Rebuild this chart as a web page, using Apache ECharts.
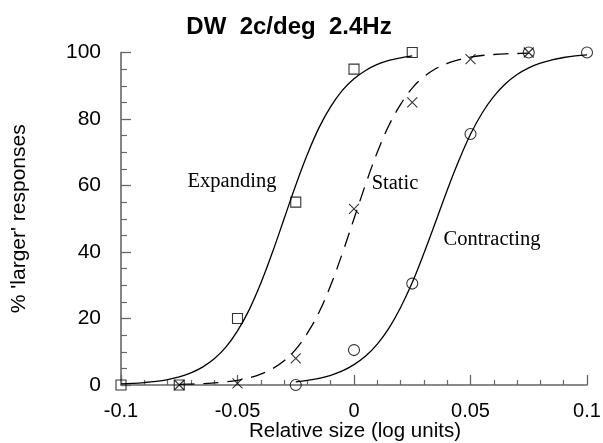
<!DOCTYPE html>
<html>
<head>
<meta charset="utf-8">
<script src="https://cdn.jsdelivr.net/npm/echarts@6/dist/echarts.min.js"></script>
<style>html,body{margin:0;padding:0;background:#fff}#c{width:603px;height:443px}</style>
</head>
<body>
<div id="c"></div>
<script>
const curveX = [-0.1,-0.095,-0.09,-0.085,-0.08,-0.075,-0.07,-0.065,-0.06,-0.055,-0.05,-0.045,-0.04,-0.035,-0.03,-0.025,-0.02,-0.015,-0.01,-0.005,0,0.005,0.01,0.015,0.02,0.025,0.03,0.035,0.04,0.045,0.05,0.055,0.06,0.065,0.07,0.075,0.08,0.085,0.09,0.095,0.1];
// curve values (null = not drawn)
const expandingCurve = [0.32,0.48,0.73,1.09,1.63,2.44,3.63,5.37,7.87,11.4,16.3,22.6,30.6,39.9,50,60.1,69.4,77.4,83.7,88.6,92.1,94.6,96.4,97.6,98.4,99.0,null,null,null,null,null,null,null,null,null,null,null,null,null,null,null];
const staticCurve = [null,null,null,null,null,0.17,0.27,0.40,0.62,0.94,1.42,2.17,3.26,4.88,7.3,10.7,15.6,21.9,30.0,39.6,50,60.4,70.0,78.1,84.4,89.3,92.7,95.1,96.7,97.8,98.6,99.1,99.4,99.6,99.7,99.8,null,null,null,null,null];
const contractingCurve = [null,null,null,null,null,null,null,null,null,null,null,null,null,null,null,0.95,1.38,2.02,2.93,4.23,6.12,8.7,12.3,17.1,23.3,30.8,39.6,49.0,58.6,67.5,75.4,81.8,86.8,90.6,93.4,95.4,96.8,97.8,98.5,99.0,99.3];
// measured points
const expandingX = [-0.1,-0.075,-0.05,-0.025,0,0.025];
const expandingY = [0,0,20,55,95,100];
const staticX = [-0.075,-0.05,-0.025,0,0.025,0.05,0.075];
const staticY = [0,0.5,8,53,85,98,100];
const contractingX = [-0.025,0,0.025,0.05,0.075,0.1];
const contractingY = [0,10.5,30.5,75.5,100,100];
// axis ticks
const xTicks = [-0.1,-0.05,0,0.05,0.1];
const yTicks = [0,20,40,60,80,100];
const labels = {title:'DW  2c/deg  2.4Hz', xName:'Relative size (log units)', yName:"% 'larger' responses", expanding:'Expanding', static:'Static', contracting:'Contracting'};

const chart = echarts.init(document.getElementById('c'), null, {renderer:'canvas'});
const pairs = (xs, ys) => xs.map((x,i)=>[x, ys[i]]).filter(p=>p[1]!==null);
const axisColor = '#666';
const sans = 'Liberation Sans';
const hollow = {color:'rgba(0,0,0,0)', borderColor:'#000', borderWidth:1.1};
const crossPath = 'path://M0,0L10,10M0,10L10,0';

chart.setOption({
  animation:false,
  backgroundColor:'#fff',
  grid:{left:121, right:16, top:52.5, bottom:58, containLabel:false, outerBoundsMode:'none'},
  xAxis:{
    type:'value', min:-0.1, max:0.1, interval:0.05,
    axisLine:{show:true, onZero:false, lineStyle:{color:axisColor, width:1.6}},
    axisTick:{show:true, inside:true, length:10, lineStyle:{color:axisColor, width:1.3}},
    minorTick:{show:true, splitNumber:5, length:5, lineStyle:{color:axisColor, width:1.2}},
    splitLine:{show:false},
    axisLabel:{fontFamily:sans, fontSize:20, color:'#000', margin:16,
      formatter:v=>{ const r=Math.round(v*1000)/1000; return xTicks.includes(r)?String(r):''; }}
  },
  yAxis:{
    type:'value', min:0, max:100, interval:20,
    name:labels.yName, nameLocation:'middle', nameGap:91,
    nameTextStyle:{fontFamily:sans, fontSize:21, color:'#000'},
    axisLine:{show:true, onZero:false, lineStyle:{color:axisColor, width:1.6}},
    axisTick:{show:true, inside:true, length:10, lineStyle:{color:axisColor, width:1.3}},
    minorTick:{show:true, splitNumber:4, length:6, lineStyle:{color:axisColor, width:1.2}},
    splitLine:{show:false},
    axisLabel:{fontFamily:sans, fontSize:21, color:'#000', margin:20,
      formatter:v=> yTicks.includes(v)?String(v):''}
  },
  graphic:[
    {type:'text', x:289, y:27, style:{text:labels.title, font:'bold 24px "Liberation Sans"', fill:'#000', textAlign:'center', textVerticalAlign:'middle'}},
    {type:'text', x:355, y:431, style:{text:labels.xName, font:'20.5px "Liberation Sans"', fill:'#000', textAlign:'center', textVerticalAlign:'middle'}},
    {type:'text', x:232, y:182, style:{text:labels.expanding, font:'20.5px "Liberation Serif"', fill:'#000', textAlign:'center', textVerticalAlign:'middle'}},
    {type:'text', x:395, y:184, style:{text:labels.static, font:'20.5px "Liberation Serif"', fill:'#000', textAlign:'center', textVerticalAlign:'middle'}},
    {type:'text', x:492, y:240, style:{text:labels.contracting, font:'20.5px "Liberation Serif"', fill:'#000', textAlign:'center', textVerticalAlign:'middle'}}
  ],
  series:[
    {type:'line', data:pairs(curveX, expandingCurve), showSymbol:false, smooth:0.4, clip:false,
      lineStyle:{color:'#000', width:1.3}, z:2},
    {type:'line', data:pairs(curveX, staticCurve), showSymbol:false, smooth:0.4, clip:false,
      lineStyle:{color:'#000', width:1.3, type:[15,9]}, z:2},
    {type:'line', data:pairs(curveX, contractingCurve), showSymbol:false, smooth:0.4, clip:false,
      lineStyle:{color:'#000', width:1.3}, z:2},
    {type:'scatter', data:pairs(expandingX, expandingY), symbol:'rect', symbolSize:10, clip:false, itemStyle:hollow, z:3},
    {type:'scatter', data:pairs(staticX, staticY), symbol:crossPath, symbolSize:10, clip:false, itemStyle:hollow, z:3},
    {type:'scatter', data:pairs(contractingX, contractingY), symbol:'circle', symbolSize:11, clip:false, itemStyle:hollow, z:3}
  ]
});
</script>
</body>
</html>
